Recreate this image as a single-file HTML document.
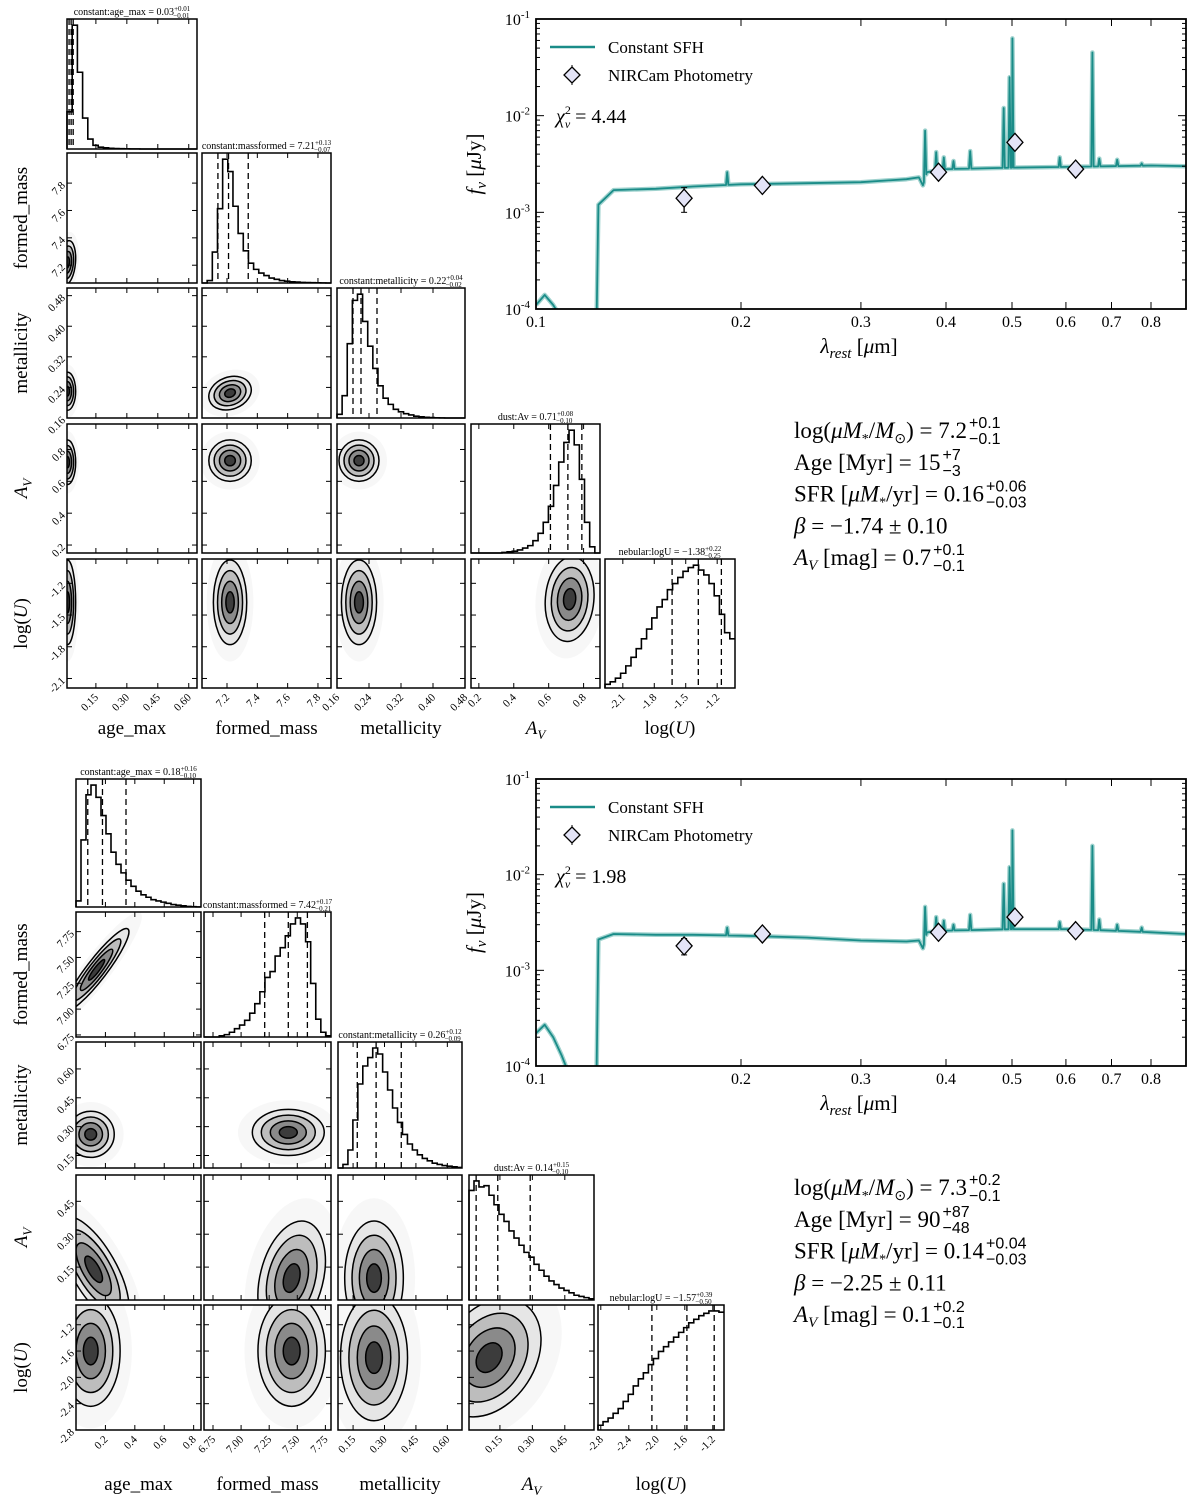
<!DOCTYPE html>
<html><head><meta charset="utf-8"><style>
html,body{margin:0;padding:0;background:#fff}
svg{display:block;font-family:"Liberation Serif",serif}
</style></head><body>
<svg id="fig" xmlns="http://www.w3.org/2000/svg" width="1200" height="1512" viewBox="0 0 1200 1512"></svg>
<script>
// ===== SED data =====
const contWave = [0.1,0.103,0.106,0.109,0.112,0.115,0.118,0.1225,0.1235,0.13,0.15,0.17,0.2,0.25,0.3,0.35,0.365,0.37,0.375,0.4,0.5,0.6,0.7,0.8,0.9];
const contTop  = [1.1e-4,1.4e-4,1.1e-4,8e-5,6e-5,5e-5,4e-5,3e-5,1.2e-3,1.7e-3,1.75e-3,1.85e-3,1.95e-3,2.0e-3,2.05e-3,2.2e-3,2.3e-3,1.9e-3,2.6e-3,2.8e-3,2.9e-3,2.95e-3,3.0e-3,3.05e-3,3.0e-3];
const contBot  = [2.2e-4,2.7e-4,2.0e-4,1.3e-4,8e-5,6e-5,4e-5,3e-5,2.1e-3,2.4e-3,2.35e-3,2.35e-3,2.3e-3,2.2e-3,2.05e-3,2.0e-3,2.05e-3,1.7e-3,2.5e-3,2.6e-3,2.7e-3,2.7e-3,2.6e-3,2.5e-3,2.4e-3];
const lineWave = [0.1909,0.3727,0.3869,0.3970,0.4102,0.4341,0.4861,0.4959,0.5007,0.5876,0.6563,0.6717,0.7136,0.7751];
const linePeakTop = [2.6e-3,7e-3,4.2e-3,3.7e-3,3.4e-3,4.3e-3,1.2e-2,2.5e-2,6.3e-2,3.7e-3,4.5e-2,3.6e-3,3.5e-3,3.2e-3];
const linePeakBot = [2.8e-3,4.6e-3,3.6e-3,3.3e-3,3.0e-3,3.8e-3,8e-3,1.2e-2,2.9e-2,3.2e-3,2.0e-2,3.4e-3,3.0e-3,2.8e-3];
const photWave = [0.165,0.215,0.39,0.505,0.62];
const photTop = [1.4e-3,1.9e-3,2.6e-3,5.3e-3,2.8e-3];
const photTopErr = [0.4e-3,0,0,0,0];
const photBot = [1.8e-3,2.4e-3,2.5e-3,3.6e-3,2.6e-3];
const photBotErr = [0.35e-3,0,0,0,0];
const sedXTicks = [0.1,0.2,0.3,0.4,0.5,0.6,0.7,0.8];
const sedYTicks = [-4,-3,-2,-1];

// ===== Corner data (top) =====
const tHistAge = [30,100,62,25,8,3,1.5,1,0.6,0.4,0.3,0.2,0.1,0.1,0,0,0,0,0,0,0,0,0,0,0];
const tHistFm  = [0,2,25,60,100,90,62,40,26,16,11,8,6,4,3,2,1.5,1,0.8,0.5,0.4,0.3,0.2,0.1,0];
const tHistZ   = [3,18,60,95,100,78,58,40,26,16,11,7,5,3.5,2.5,1.5,1,0.6,0.4,0.2,0.1,0,0,0,0];
const tHistAv  = [0,0,0,0,0,0,0.5,1,1.5,2.5,4,6,10,16,25,38,55,74,90,100,88,60,25,5,0];
const tHistU   = [3,5,8,12,18,25,32,40,48,57,66,72,80,85,90,95,98,100,96,92,85,75,60,45,40];
const tQ = [[0.02,0.03,0.04],[7.14,7.21,7.34],[0.20,0.22,0.26],[0.61,0.71,0.79],[-1.63,-1.38,-1.16]];
// pairs: col,row,cx,cy,sx,sy,rho
const tPairs = [
 [0,1,0.012,7.22,0.02,0.08,0.2],[0,2,0.012,0.23,0.02,0.025,0],[0,3,0.012,0.72,0.02,0.07,0],[0,4,0.012,-1.38,0.02,0.2,0],
 [1,2,7.22,0.225,0.07,0.022,0.2],[1,3,7.22,0.73,0.07,0.065,0],[1,4,7.22,-1.38,0.055,0.2,0],
 [2,3,0.215,0.73,0.025,0.065,0],[2,4,0.215,-1.38,0.022,0.2,0],[3,4,0.72,-1.35,0.07,0.2,0.1]];

// ===== Corner data (bottom) =====
const bHistAge = [5,55,92,100,90,75,60,45,35,28,22,17,13,10,8,6,5,4,3,2,1.5,1,0.5,0.3,0.1];
const bHistFm  = [0,0,0,1,2,4,7,10,14,20,28,38,50,55,68,75,85,95,100,95,80,45,15,4,1];
const bHistZ   = [0,3,15,40,70,85,92,100,95,80,65,50,38,28,20,15,11,8,6,4,3,2,1.5,1,0.5];
const bHistAv  = [92,100,95,96,88,80,72,66,58,52,46,40,36,30,25,20,16,13,10,8,6,4,3,2,1];
const bHistU   = [4,7,10,14,18,24,30,37,43,48,55,60,66,70,74,78,82,86,90,93,96,98,100,100,99];
const bQ = [[0.08,0.18,0.34],[7.21,7.42,7.59],[0.17,0.26,0.38],[0.04,0.14,0.29],[-2.07,-1.57,-1.18]];
const bPairs = [
 [0,1,0.14,7.38,0.11,0.2,0.92],[0,2,0.1,0.26,0.08,0.06,0],[0,3,0.12,0.14,0.12,0.12,-0.7],[0,4,0.1,-1.6,0.1,0.42,0],
 [1,2,7.42,0.27,0.16,0.06,0],[1,3,7.45,0.1,0.15,0.13,0.3],[1,4,7.45,-1.6,0.15,0.42,0],
 [2,3,0.25,0.1,0.07,0.13,0],[2,4,0.25,-1.7,0.08,0.48,0],[3,4,0.1,-1.7,0.12,0.45,0.3]];

const NS='http://www.w3.org/2000/svg';
const svg=document.getElementById('fig');
function el(tag,attrs,parent){const e=document.createElementNS(NS,tag);for(const k in attrs)e.setAttribute(k,attrs[k]);(parent||svg).appendChild(e);return e;}
let clipId=0;

function drawCorner(cfg){
  const g=el('g',{});
  
  
  const P=(c,r)=>({x0:cfg.cols[c][0],x1:cfg.cols[c][1],y0:cfg.rows[r][0],y1:cfg.rows[r][1]});
  const sx=(c,v)=>{const p=cfg.cols[c],r=cfg.xr[c];return p[0]+(v-r[0])/(r[1]-r[0])*(p[1]-p[0]);};
  const sy=(r,v)=>{const p=cfg.rows[r],q=cfg.yr[r];return p[1]-(v-q[0])/(q[1]-q[0])*(p[1]-p[0]);};
  cfg.pairs.forEach(pr=>{
    const [c,r,cx,cy,sdx,sdy,rho]=pr; const p=P(c,r);
    const id='cp'+(clipId++);
    const cp=el('clipPath',{id:id},g); el('rect',{x:p.x0,y:p.y0,width:p.x1-p.x0,height:p.y1-p.y0},cp);
    const pg=el('g',{'clip-path':'url(#'+id+')'},g);
    
    
    const kx=(cfg.cols[c][1]-cfg.cols[c][0])/(cfg.xr[c][1]-cfg.xr[c][0]);
    const ky=(cfg.rows[r][1]-cfg.rows[r][0])/(cfg.yr[r][1]-cfg.yr[r][0]);
    const a=(sdx*kx)**2,b=(sdy*ky)**2,cc=-rho*sdx*kx*sdy*ky;
    const th=0.5*Math.atan2(2*cc,a-b)*180/Math.PI;
    const m=(a+b)/2,d=Math.sqrt(((a-b)/2)**2+cc*cc);
    const l1=Math.sqrt(m+d),l2=Math.sqrt(m-d);
    const X=sx(c,cx),Y=sy(r,cy);
    const levels=[2.8,2.0,1.5,1.0,0.5];
    const fills=['#f7f7f7','#e6e6e6','#bdbdbd','#8a8a8a','#3c3c3c'];
    levels.forEach((k,i)=>{
      el('ellipse',{cx:X,cy:Y,rx:k*l1,ry:k*l2,transform:`rotate(${th} ${X} ${Y})`,fill:fills[i],stroke:i>0?'#000':'none','stroke-width':1.5},pg);
    });
    el('rect',{x:p.x0,y:p.y0,width:p.x1-p.x0,height:p.y1-p.y0,fill:'none',stroke:'#000','stroke-width':1.5},g);
  });
  cfg.hists.forEach((h,k)=>{
    const p=P(k,k); const n=h.length; const mx=Math.max(...h)*1.05;
    const bw=(cfg.xr[k][1]-cfg.xr[k][0])/n;
    let d=`M${p.x0},${p.y1}`;
    h.forEach((v,i)=>{const xa=sx(k,cfg.xr[k][0]+i*bw),xb=sx(k,cfg.xr[k][0]+(i+1)*bw);const y=p.y1-v/mx*(p.y1-p.y0);d+=`L${xa},${y}L${xb},${y}`;});
    const path=el('path',{d:d,fill:'none',stroke:'#000','stroke-width':1.6},g);
    
    
    cfg.q[k].forEach(v=>{const x=sx(k,v);el('line',{x1:x,x2:x,y1:p.y0,y2:p.y1,stroke:'#000','stroke-width':1.3,'stroke-dasharray':'6,4'},g);});
    el('rect',{x:p.x0,y:p.y0,width:p.x1-p.x0,height:p.y1-p.y0,fill:'none',stroke:'#000','stroke-width':1.5},g);
    const t=el('text',{x:(p.x0+p.x1)/2,y:p.y0-4,'text-anchor':'middle','font-size':10},g);
    t.innerHTML=cfg.titles[k][0]+`<tspan font-size="7" dy="-4">${cfg.titles[k][1]}</tspan><tspan font-size="7" dy="7" dx="-17">${cfg.titles[k][2]}</tspan>`;
    
    
  });
  for(let c=0;c<5;c++){
    const xb=cfg.rows[4][1];
    cfg.xt[c].forEach(v=>{
      const x=sx(c,v);
      for(let r=c;r<5;r++){const p=P(c,r);el('line',{x1:x,x2:x,y1:p.y1,y2:p.y1-5,stroke:'#000'},g);el('line',{x1:x,x2:x,y1:p.y0,y2:p.y0+5,stroke:'#000'},g);}
      const t=el('text',{x:x+3,y:xb+10,'text-anchor':'end','font-size':11,transform:`rotate(-45 ${x+3} ${xb+10})`},g);
      t.textContent=cfg.xtl[c](v);
      
      
    });
    const lx=(cfg.cols[c][0]+cfg.cols[c][1])/2;
    const lab=el('text',{x:lx,y:cfg.xlabY,'text-anchor':'middle','font-size':19},g);
    lab.innerHTML=cfg.labels[c];
    
    
  }
  for(let r=1;r<5;r++){
    cfg.yt[r].forEach(v=>{
      const y=sy(r,v);
      for(let c=0;c<r;c++){const p=P(c,r);el('line',{x1:p.x0,x2:p.x0+5,y1:y,y2:y,stroke:'#000'},g);el('line',{x1:p.x1,x2:p.x1-5,y1:y,y2:y,stroke:'#000'},g);}
      const x0=cfg.cols[0][0]-4;
      const t=el('text',{x:x0,y:y+4,'text-anchor':'end','font-size':11,transform:`rotate(-45 ${x0} ${y})`},g);
      t.textContent=cfg.ytl[r](v);
      
      
    });
    const ly=(cfg.rows[r][0]+cfg.rows[r][1])/2;
    const lab=el('text',{x:cfg.ylabX,y:ly,'text-anchor':'middle','font-size':19,transform:`rotate(-90 ${cfg.ylabX} ${ly})`},g);
    lab.innerHTML=cfg.labels[r];
    
    
  }
}
const f2=v=>v.toFixed(2),f1=v=>v.toFixed(1);
const LAB=['age_max','formed_mass','metallicity','<tspan font-style="italic">A</tspan><tspan font-style="italic" font-size="13" dy="5">V</tspan>','log(<tspan font-style="italic">U</tspan>)'];
drawCorner({name:'corner-plot-top',cols:[[67,197],[202,331],[337,465],[471,600],[605,735]],rows:[[19,149],[153,283],[288,418],[424,553],[559,688]],
 xr:[[0.01,0.64],[7.035,7.886],[0.16,0.48],[0.155,0.894],[-2.27,-1.03]],
 yr:[null,[7.07,8.02],[0.16,0.50],[0.15,0.96],[-2.19,-0.97]],
 hists:[tHistAge,tHistFm,tHistZ,tHistAv,tHistU],q:tQ,pairs:tPairs,
 xt:[[0.15,0.30,0.45,0.60],[7.2,7.4,7.6,7.8],[0.16,0.24,0.32,0.40,0.48],[0.2,0.4,0.6,0.8],[-2.1,-1.8,-1.5,-1.2]],
 xtl:[f2,f1,f2,f1,f1],
 yt:[null,[7.2,7.4,7.6,7.8],[0.16,0.24,0.32,0.40,0.48],[0.2,0.4,0.6,0.8],[-2.1,-1.8,-1.5,-1.2]],
 ytl:[null,f1,f2,f1,f1],labels:LAB,xlabY:734,ylabX:27,
 titles:[['constant:age_max = 0.03','+0.01','−0.01'],['constant:massformed = 7.21','+0.13','−0.07'],['constant:metallicity = 0.22','+0.04','−0.02'],['dust:Av = 0.71','+0.08','−0.10'],['nebular:logU = −1.38','+0.22','−0.25']]});
drawCorner({name:'corner-plot-bottom',cols:[[76,201],[204,331],[338,462],[469,594],[598,724]],rows:[[779,907],[912,1037],[1042,1168],[1175,1300],[1305,1430]],
 xr:[[0,0.85],[6.67,7.80],[0.078,0.67],[0.007,0.585],[-2.84,-1.04]],
 yr:[null,[6.73,7.94],[0.085,0.74],[0.0,0.57],[-2.8,-0.9]],
 hists:[bHistAge,bHistFm,bHistZ,bHistAv,bHistU],q:bQ,pairs:bPairs,
 xt:[[0.2,0.4,0.6,0.8],[6.75,7.00,7.25,7.50,7.75],[0.15,0.30,0.45,0.60],[0.15,0.30,0.45],[-2.8,-2.4,-2.0,-1.6,-1.2]],
 xtl:[f1,f2,f2,f2,f1],
 yt:[null,[6.75,7.00,7.25,7.50,7.75],[0.15,0.30,0.45,0.60],[0.15,0.30,0.45],[-2.8,-2.4,-2.0,-1.6,-1.2]],
 ytl:[null,f2,f2,f2,f1],labels:LAB,xlabY:1490,ylabX:27,
 titles:[['constant:age_max = 0.18','+0.16','−0.10'],['constant:massformed = 7.42','+0.17','−0.21'],['constant:metallicity = 0.26','+0.12','−0.09'],['dust:Av = 0.14','+0.15','−0.10'],['nebular:logU = −1.57','+0.39','−0.50']]});

// ===== SED =====
function drawSED(name,x0,x1,y0,y1,cont,peaks,phot,perr,chi){
  const g=el('g',{});
  
  
  const dec=(y1-y0)/3;
  const X=l=>x0+(Math.log10(l)+1)*681;
  const Y=f=>y0+(-1-Math.log10(f))*dec;
  const id='sc'+(clipId++);
  const cp=el('clipPath',{id:id},g);el('rect',{x:x0,y:y0,width:x1-x0,height:y1-y0},cp);
  const sg=el('g',{'clip-path':'url(#'+id+')'},g);
  const cAt=l=>{for(let i=0;i<contWave.length-1;i++){if(l>=contWave[i]&&l<=contWave[i+1]){const t=(l-contWave[i])/(contWave[i+1]-contWave[i]);return Math.pow(10,Math.log10(cont[i])*(1-t)+Math.log10(cont[i+1])*t);}}return cont[cont.length-1];};
  let pts=contWave.map((w,i)=>[w,cont[i]]);
  lineWave.forEach((w,i)=>{pts.push([w*0.996,cAt(w*0.996)]);pts.push([w,peaks[i]]);pts.push([w*1.004,cAt(w*1.004)]);});
  pts.sort((a,b)=>a[0]-b[0]);
  const d=pts.map((p,i)=>(i?'L':'M')+X(p[0]).toFixed(1)+','+Y(p[1]).toFixed(1)).join('');
  el('path',{d:d,fill:'none',stroke:'#9fd2ce','stroke-width':4.5,'stroke-linejoin':'round'},sg);
  const sp=el('path',{d:d,fill:'none',stroke:'#1a8c88','stroke-width':1.8,'stroke-linejoin':'round'},sg);
  
  
  phot.forEach((f,i)=>{
    const x=X(photWave[i]),y=Y(f);
    if(perr[i]>0){el('line',{x1:x,x2:x,y1:Y(f+perr[i]),y2:Y(f-perr[i]),stroke:'#000','stroke-width':1.3},g);
      el('line',{x1:x-3,x2:x+3,y1:Y(f+perr[i]),y2:Y(f+perr[i]),stroke:'#000'},g);el('line',{x1:x-3,x2:x+3,y1:Y(f-perr[i]),y2:Y(f-perr[i]),stroke:'#000'},g);}
    const dm=el('path',{d:`M${x},${y-9}L${x+8},${y}L${x},${y+9}L${x-8},${y}Z`,fill:'#e4e4f7',stroke:'#000','stroke-width':1.3},g);
    
    
  });
  el('rect',{x:x0,y:y0,width:x1-x0,height:y1-y0,fill:'none',stroke:'#000','stroke-width':1.8},g);
  sedXTicks.forEach(v=>{const x=X(v);el('line',{x1:x,x2:x,y1:y1,y2:y1-7,stroke:'#000'},g);el('line',{x1:x,x2:x,y1:y0,y2:y0+7,stroke:'#000'},g);
    const t=el('text',{x:x,y:y1+18,'text-anchor':'middle','font-size':16},g);t.textContent=String(v);
    });
  sedYTicks.forEach(e=>{const y=Y(Math.pow(10,e));el('line',{x1:x0,x2:x0+8,y1:y,y2:y,stroke:'#000'},g);el('line',{x1:x1,x2:x1-8,y1:y,y2:y,stroke:'#000'},g);
    if(e<-1){for(let m=2;m<10;m++){const ym=Y(m*Math.pow(10,e));el('line',{x1:x0,x2:x0+4,y1:ym,y2:ym,stroke:'#000'},g);el('line',{x1:x1,x2:x1-4,y1:ym,y2:ym,stroke:'#000'},g);}}
    const t=el('text',{x:x0-6,y:y+6,'text-anchor':'end','font-size':16},g);t.innerHTML=`10<tspan font-size="11" dy="-7">${e}</tspan>`;
    });
  el('line',{x1:x0+14,x2:x0+59,y1:y0+28,y2:y0+28,stroke:'#1a8c88','stroke-width':2.5},g);
  const t1=el('text',{x:x0+72,y:y0+34,'font-size':17},g);t1.textContent='Constant SFH';
  
  const lx=x0+36,ly=y0+56;
  el('line',{x1:lx,x2:lx,y1:ly-10,y2:ly+10,stroke:'#000'},g);
  el('path',{d:`M${lx},${ly-8}L${lx+8},${ly}L${lx},${ly+8}L${lx-8},${ly}Z`,fill:'#e4e4f7',stroke:'#000','stroke-width':1.3},g);
  const t2=el('text',{x:x0+72,y:y0+62,'font-size':17},g);t2.textContent='NIRCam Photometry';
  
  const t3=el('text',{x:x0+20,y:y0+104,'font-size':20},g);
  t3.innerHTML=`<tspan font-style="italic">χ</tspan><tspan font-size="12" dy="-9">2</tspan><tspan font-size="12" font-style="italic" dx="-6" dy="14">v</tspan><tspan dy="-5"> = ${chi}</tspan>`;
  
  const xl=el('text',{x:(x0+x1)/2-2,y:y1+44,'text-anchor':'middle','font-size':21},g);
  xl.innerHTML=`<tspan font-style="italic">λ</tspan><tspan font-style="italic" font-size="15" dy="5">rest</tspan><tspan dy="-5"> [</tspan><tspan font-style="italic">μ</tspan>m]`;
  
  const cy=(y0+y1)/2, cx=x0-55;
  const yl=el('text',{x:cx,y:cy,'text-anchor':'middle','font-size':21,transform:`rotate(-90 ${cx} ${cy})`},g);
  yl.innerHTML=`<tspan font-style="italic">f</tspan><tspan font-style="italic" font-size="15" dy="5">ν</tspan><tspan dy="-5"> [</tspan><tspan font-style="italic">μ</tspan>Jy]`;
  
}
drawSED('sed-plot-top',536,1186,19,309,contTop,linePeakTop,photTop,photTopErr,'4.44');
drawSED('sed-plot-bottom',536,1186,779,1066,contBot,linePeakBot,photBot,photBotErr,'1.98');

// ===== parameter text =====
function paramBlock(name,x,y,rows){
  const g=el('g',{});
  
  
  rows.forEach((r,i)=>{
    const t=el('text',{x:x,y:y+i*31.8,'font-size':23},g);
    t.innerHTML=r[0];
    
    
    if(r[1]){const w=t.getComputedTextLength();
      const a=el('text',{x:x+w+2,y:y+i*31.8-10,'font-size':16,'font-family':'"Liberation Sans",sans-serif'},g);a.textContent=r[1];
      const b=el('text',{x:x+w+2,y:y+i*31.8+6,'font-size':16,'font-family':'"Liberation Sans",sans-serif'},g);b.textContent=r[2];}
  });
}
const it=s=>`<tspan font-style="italic">${s}</tspan>`;
paramBlock('parameters-top',794,438,[
 [`log(${it('μM')}<tspan font-size="14" dy="5">*</tspan><tspan dy="-5">/</tspan>${it('M')}<tspan font-size="14" dy="5">⊙</tspan><tspan dy="-5">) = 7.2</tspan>`,'+0.1','−0.1'],
 ['Age [Myr]  = 15','+7','−3'],
 [`SFR [${it('μM')}<tspan font-size="14" dy="5">*</tspan><tspan dy="-5">/yr] = 0.16</tspan>`,'+0.06','−0.03'],
 [`${it('β')} = −1.74 ± 0.10`],
 [`${it('A')}<tspan font-style="italic" font-size="15" dy="5">V</tspan><tspan dy="-5"> [mag] = 0.7</tspan>`,'+0.1','−0.1']]);
paramBlock('parameters-bottom',794,1195,[
 [`log(${it('μM')}<tspan font-size="14" dy="5">*</tspan><tspan dy="-5">/</tspan>${it('M')}<tspan font-size="14" dy="5">⊙</tspan><tspan dy="-5">) = 7.3</tspan>`,'+0.2','−0.1'],
 ['Age [Myr]  = 90','+87','−48'],
 [`SFR [${it('μM')}<tspan font-size="14" dy="5">*</tspan><tspan dy="-5">/yr] = 0.14</tspan>`,'+0.04','−0.03'],
 [`${it('β')} = −2.25 ± 0.11`],
 [`${it('A')}<tspan font-style="italic" font-size="15" dy="5">V</tspan><tspan dy="-5"> [mag] = 0.1</tspan>`,'+0.2','−0.1']]);
</script>
</body></html>
